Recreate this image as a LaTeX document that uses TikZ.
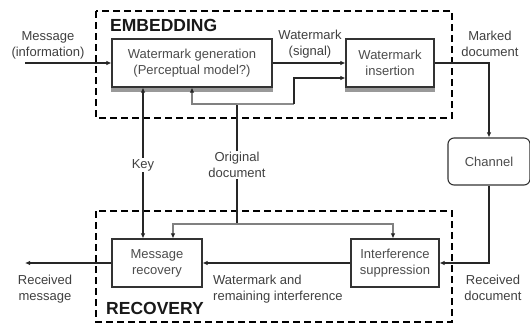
\documentclass[tikz,border=0pt]{standalone}
\usepackage{fontspec}
\setmainfont{Liberation Sans}
\usetikzlibrary{arrows.meta}
\begin{document}
\begin{tikzpicture}[x=1pt,y=-1pt,
  txt/.style={text=black!75, font=\fontsize{13}{16}\selectfont, align=center, inner sep=1pt},
  blk/.style={draw=black!80, line width=1.1pt, fill=white, minimum height=48pt, text=black!70, font=\fontsize{13}{16}\selectfont, align=center, inner sep=0pt},
  arr/.style={draw=black!85, line width=1.3pt, -{Latex[length=5pt,width=4.5pt]}},
  ln/.style={draw=black!85, line width=1.2pt},
  gln/.style={draw=black!45, line width=1.2pt},
  garr/.style={draw=black!50, line width=1.1pt, -{Latex[length=5pt,width=4.5pt,color=black!85]}},
  region/.style={draw=black, line width=2.2pt, dash pattern=on 7pt off 4pt},
  shade/.style={fill=black!40},
  title/.style={font=\bfseries\fontsize{17.5}{20}\selectfont, text=black!90, inner sep=0pt, anchor=west}
]
\useasboundingbox (0,0) rectangle (530,324);
\fill[white] (0,0) rectangle (530,324);

% regions
\draw[region] (96,11) rectangle (452,118);
\draw[region] (96,211) rectangle (452,322);
\node[title] (emb) at (110,25) {EMBEDDING};
\node[title] (recv) at (106,308) {RECOVERY};

% blocks
\node[blk, minimum width=160pt] (gen) at (192,63) {Watermark generation\\(Perceptual model?)};
\node[blk, minimum width=88pt] (ins) at (390,63) {Watermark\\insertion};
\node[blk, minimum width=90pt] (rec) at (157,263) {Message\\recovery};
\node[blk, minimum width=88pt] (sup) at (395,263) {Interference\\suppression};
\node[blk, minimum width=82pt, minimum height=47pt, rounded corners=6pt] (chan) at (489,161.5) {Channel};

\fill[shade] (gen.south west) rectangle ([yshift=-4pt]gen.south east);
\fill[shade] (ins.south west) rectangle ([yshift=-4pt]ins.south east);

% labels
\node[txt] (msg) at (48,45) {Message\\(information)};
\node[txt] (wms) at (310,44) {Watermark\\(signal)};
\node[txt] (mkd) at (490,44) {Marked\\document};
\node[txt] (orig) at (237,165) {Original\\document};
\node[txt, fill=white] (key) at (143,165) {Key};
\node[txt] (rmsg) at (45,289) {Received\\message};
\node[txt] (rdoc) at (493,288) {Received\\document};
\node[txt, align=left, anchor=west] (wri) at (212,289) {Watermark and\\remaining interference};

% connectors
\coordinate (msgin) at (25,63);
\draw[arr] (msgin) -- (gen.west);
\draw[arr] (gen.east) -- (ins.west);
\draw[arr] (ins.east) -| (chan.north);
\draw[arr] (chan.south) |- (sup.east);
\draw[arr] (sup.west) -- (rec.east);
\coordinate (rmout) at (25,263);
\draw[arr] (rec.west) -- (rmout);

\draw[arr] (key) -- (key |- gen.south);
\draw[arr] (key) -- (key |- rec.north);

\coordinate (j1) at (237,104);
\coordinate (g1) at (192,104);
\coordinate (g2) at (294,104);
\coordinate (g3) at (294,78);
\draw[ln] (orig) -- (j1);
\draw[garr] (j1) -- (g1) -- (g1 |- gen.south);
\draw[gln] (j1) -- (g2);
\draw[arr] (g2) -- (g3) -- (g3 -| ins.west);

\coordinate (j2) at (237,224);
\coordinate (r1) at (173,224);
\coordinate (s1) at (393,224);
\draw[ln] (orig) -- (j2);
\draw[garr] (j2) -- (r1) -- (r1 |- rec.north);
\draw[garr] (j2) -- (s1) -- (s1 |- sup.north);
\end{tikzpicture}
\end{document}
